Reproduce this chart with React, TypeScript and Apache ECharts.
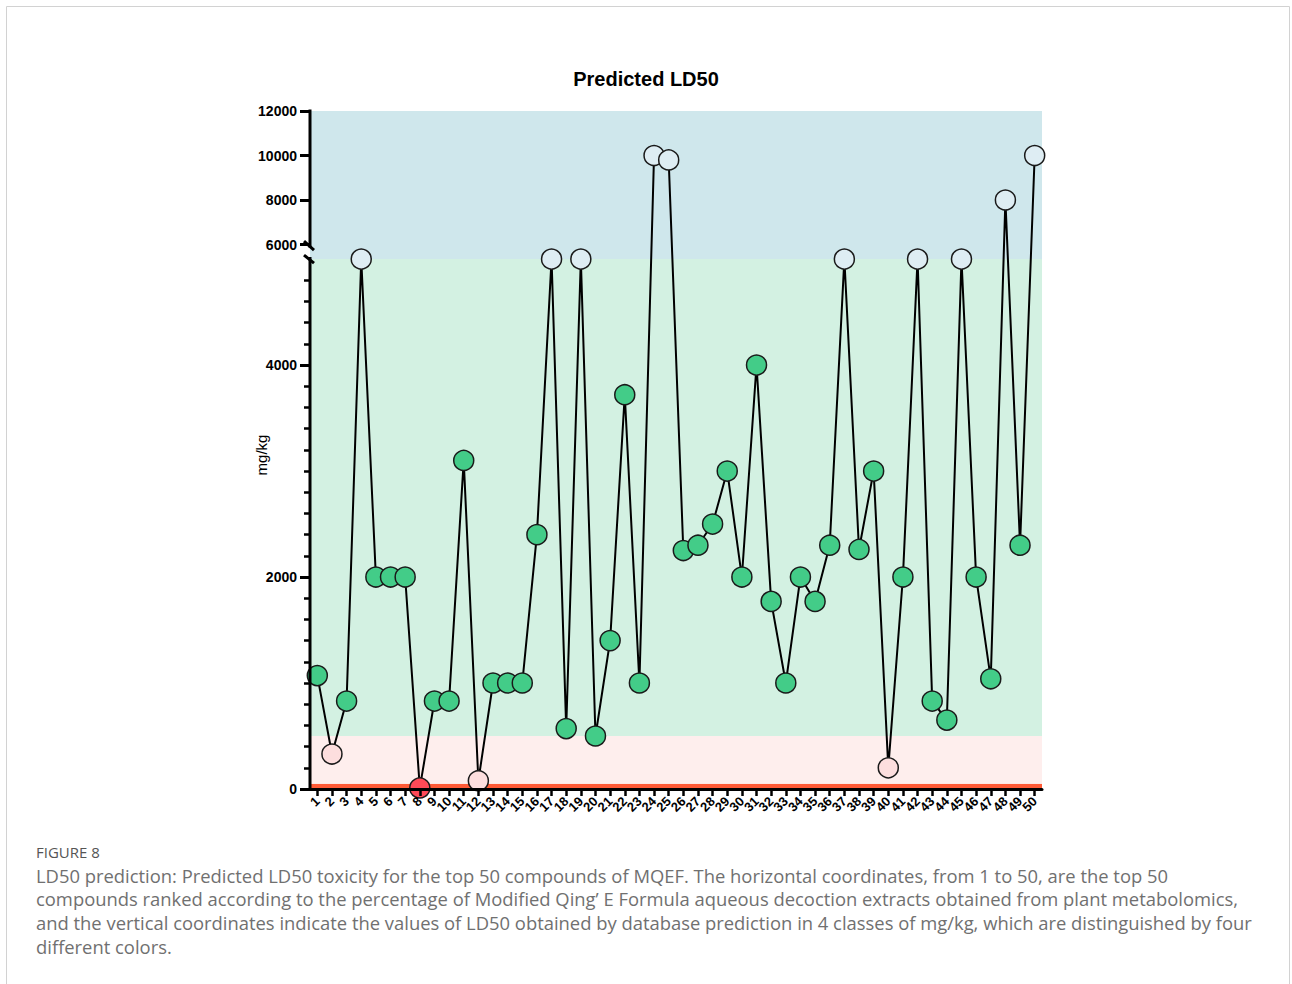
import React, { useEffect, useRef } from "react";
import * as echarts from "echarts";

const categories = [
  "1", "2", "3", "4", "5", "6", "7", "8", "9", "10",
  "11", "12", "13", "14", "15", "16", "17", "18", "19", "20",
  "21", "22", "23", "24", "25", "26", "27", "28", "29", "30",
  "31", "32", "33", "34", "35", "36", "37", "38", "39", "40",
  "41", "42", "43", "44", "45", "46", "47", "48", "49", "50",
];

const ld50Values = [
  1070, 330, 830, 5000, 2000, 2000, 2000, 10, 830, 830,
  3100, 78, 1000, 1000, 1000, 2400, 5000, 570, 5000, 500,
  1400, 3720, 1000, 10000, 9800, 2250, 2300, 2500, 3000, 2000,
  4000, 1770, 1000, 2000, 1770, 2300, 5000, 2260, 3000, 200,
  2000, 5000, 830, 650, 5000, 2000, 1040, 8000, 2300, 10000,
];

const yMajorLabels = [0, 2000, 4000, 6000, 8000, 10000, 12000];
const yMinorTicks = [
  200, 400, 600, 800, 1000, 1200, 1400, 1600, 1800,
  2200, 2400, 2600, 2800, 3000, 3200, 3400, 3600, 3800,
  4200, 4400, 4600, 4800,
];

// toxicity classes (upper bounds, exclusive) and their colours
const classBounds = [50, 500, 5000];
const classColors = ["#ff4a57", "#fddede", "#43cc88", "#deedf3"];
// background bands
const bandEdges = [0, 50, 500, 5000, 12000];
const bandColors = ["#ff5a36", "#feeeed", "#d3f1e2", "#cfe7ec"];

const captionTitle = "FIGURE 8";
const captionLines = [
  "LD50 prediction: Predicted LD50 toxicity for the top 50 compounds of MQEF. The horizontal coordinates, from 1 to 50, are the top 50",
  "compounds ranked according to the percentage of Modified Qing\u2019 E Formula aqueous decoction extracts obtained from plant metabolomics,",
  "and the vertical coordinates indicate the values of LD50 obtained by database prediction in 4 classes of mg/kg, which are distinguished by four",
  "different colors.",
];

// broken axis: linear below BREAK_LOW, compressed above BREAK_HIGH
const BREAK_LOW = 5000;
const BREAK_HIGH = 6000;
const T_HIGH = 5137;
const TOP_RATIO = 0.21;

function toAxis(v: number): number {
  if (v <= BREAK_LOW) return v;
  if (v >= BREAK_HIGH) return T_HIGH + (v - BREAK_HIGH) * TOP_RATIO;
  return BREAK_LOW + ((v - BREAK_LOW) * (T_HIGH - BREAK_LOW)) / (BREAK_HIGH - BREAK_LOW);
}
function fromAxis(t: number): number {
  if (t <= BREAK_LOW) return t;
  if (t >= T_HIGH) return BREAK_HIGH + (t - T_HIGH) / TOP_RATIO;
  return BREAK_LOW + ((t - BREAK_LOW) * (BREAK_HIGH - BREAK_LOW)) / (T_HIGH - BREAK_LOW);
}
function classColor(v: number): string {
  for (let i = 0; i < classBounds.length; i++) if (v < classBounds[i]) return classColors[i];
  return classColors[classColors.length - 1];
}

const AXIS_FONT = "'Liberation Sans', Arial, Helvetica, sans-serif";
const CAPTION_FONT = "'Open Sans', Lato, sans-serif";

export default function App() {
  const ref = useRef<HTMLDivElement>(null);

  useEffect(() => {
    document.body.style.margin = "0";
    if (!ref.current) return;
    const chart = echarts.init(ref.current, undefined, { renderer: "svg" });
    const yMax = toAxis(12000);
    const majorT = yMajorLabels.map(toAxis);

    chart.setOption({
      animation: false,
      backgroundColor: "#ffffff",
      title: {
        text: "Predicted LD50",
        left: "center",
        top: 69,
        padding: 0,
        textStyle: { fontFamily: AXIS_FONT, fontWeight: "bold", fontSize: 20, color: "#000" },
      },
      grid: { left: 310, top: 111, width: 732, height: 678 },
      xAxis: {
        type: "category",
        data: categories,
        boundaryGap: true,
        z: 10,
        axisLine: { show: true, lineStyle: { color: "#000", width: 3 } },
        axisTick: { show: true, alignWithLabel: true, length: 7, lineStyle: { color: "#000", width: 2.5 } },
        axisLabel: {
          interval: 0,
          rotate: 45,
          margin: 10,
          color: "#000",
          fontFamily: AXIS_FONT,
          fontWeight: "bold",
          fontSize: 13,
        },
        splitLine: { show: false },
      },
      yAxis: [
        {
          type: "value",
          min: 0,
          max: yMax,
          position: "left",
          axisLine: { show: false },
          splitLine: { show: false },
          axisTick: {
            show: true,
            length: 10,
            customValues: majorT,
            lineStyle: { color: "#000", width: 3 },
          },
          axisLabel: {
            customValues: majorT,
            margin: 13,
            color: "#000",
            fontFamily: AXIS_FONT,
            fontWeight: "bold",
            fontSize: 14,
            formatter: (val: number) => String(Math.round(fromAxis(val))),
          },
        },
        {
          type: "value",
          min: 0,
          max: yMax,
          position: "left",
          axisLine: { show: false },
          splitLine: { show: false },
          axisLabel: { show: false },
          axisTick: {
            show: true,
            length: 6,
            customValues: yMinorTicks.map(toAxis),
            lineStyle: { color: "#000", width: 2.5 },
          },
        },
      ],
      series: [
        {
          type: "line",
          yAxisIndex: 0,
          data: ld50Values.map((v) => ({
            value: toAxis(v),
            itemStyle: { color: classColor(v) },
          })),
          symbol: "circle",
          symbolSize: 20,
          showAllSymbol: true,
          clip: false,
          lineStyle: { color: "#000", width: 2 },
          itemStyle: { borderColor: "#1a1a1a", borderWidth: 1.5 },
          emphasis: { disabled: true },
          markArea: {
            silent: true,
            data: bandColors.map((c, i) => [
              { yAxis: toAxis(bandEdges[i]), itemStyle: { color: c, opacity: 1 } },
              { yAxis: toAxis(bandEdges[i + 1]) },
            ]),
          },
        },
      ],
    });

    const px = (v: number) => chart.convertToPixel({ yAxisIndex: 0 }, toAxis(v)) as number;
    const ax = 310;
    const p12 = px(12000);
    const p6 = px(6000);
    const p5 = px(5000);
    const p0 = px(0);
    const black = { stroke: "#000", lineWidth: 3 };

    chart.setOption({
      graphic: [
        {
          type: "rect",
          silent: true,
          shape: { x: 6.5, y: 6.5, width: 1283, height: 1010 },
          style: { fill: "none", stroke: "#d2d2d2", lineWidth: 1 },
        },
        { type: "line", silent: true, z: 20, shape: { x1: ax, y1: p12 - 1.5, x2: ax, y2: p6 + 3 }, style: black },
        { type: "line", silent: true, z: 20, shape: { x1: ax, y1: p5 - 2, x2: ax, y2: p0 + 1.5 }, style: black },
        { type: "line", silent: true, z: 20, shape: { x1: ax - 6, y1: p6 - 3.5, x2: ax + 4, y2: p6 + 5.5 }, style: black },
        { type: "line", silent: true, z: 20, shape: { x1: ax - 6, y1: p5 - 4, x2: ax + 4, y2: p5 + 4 }, style: black },
        {
          type: "text",
          silent: true,
          x: 261,
          y: 455,
          rotation: Math.PI / 2,
          style: {
            text: "mg/kg",
            fill: "#000",
            font: `15px ${AXIS_FONT}`,
            textAlign: "center",
            textVerticalAlign: "middle",
          },
        },
        {
          type: "text",
          silent: true,
          x: 36,
          y: 852,
          style: {
            text: captionTitle,
            fill: "#555",
            font: `15px ${CAPTION_FONT}`,
            textAlign: "left",
            textVerticalAlign: "middle",
          },
        },
        ...captionLines.map((line, i) => ({
          type: "text",
          silent: true,
          x: 36,
          y: 875 + i * 23.7,
          style: {
            text: line,
            fill: "#707070",
            font: `18.4px ${CAPTION_FONT}`,
            textAlign: "left",
            textVerticalAlign: "middle",
          },
        })),
      ],
    });

    return () => chart.dispose();
  }, []);

  return <div ref={ref} style={{ width: 1292, height: 984 }} />;
}
